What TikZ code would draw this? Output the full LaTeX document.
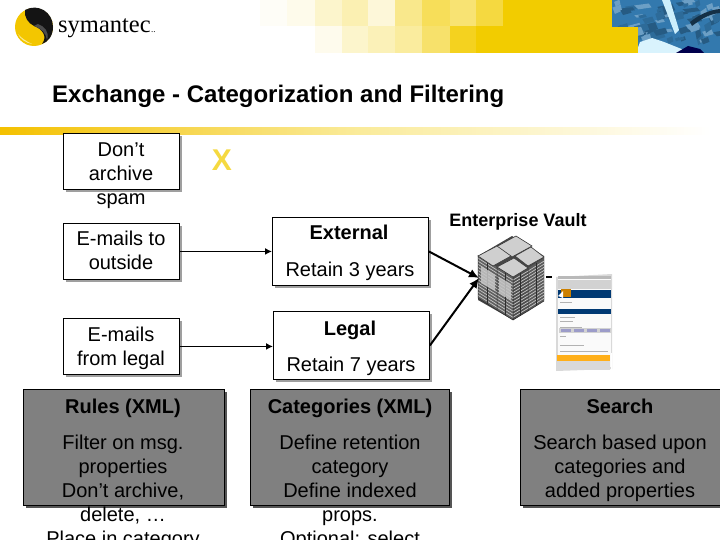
\documentclass[tikz,border=0pt]{standalone}
\usepackage{fontspec}
\setmainfont{Liberation Sans}
\newfontfamily\logofont{Liberation Serif}
\usetikzlibrary{arrows.meta}
\definecolor{gold}{HTML}{F2CC00}
\definecolor{boxgray}{HTML}{808080}
\definecolor{shadowgray}{HTML}{555555}
\definecolor{globeblue}{HTML}{3379AE}
\tikzset{
  x=1pt,y=-1pt,
  txt/.style={anchor=base,inner sep=0pt,font=\fontsize{20}{24}\selectfont,text=black},
  txtb/.style={txt,font=\fontsize{20}{24}\selectfont\bfseries},
  whitebox/.style={draw=black,line width=0.9pt,fill=white,inner sep=0pt,anchor=north west},
  graybox/.style={draw=black,line width=0.9pt,fill=boxgray,inner sep=0pt,anchor=north west},
  arr/.style={draw=black,line width=1.8pt,-{Latex[length=7pt,width=7pt]}},
  arrb/.style={draw=black,line width=2pt,-{Latex[length=10pt,width=9pt]}},
  topface/.style={fill=gray!38,draw=gray!45!black,line width=0.6pt},
}
% rack face: from (x1,y1) to (x2,y2) along the top edge, base grey level
\newcommand{\rackface}[5]{%
  \fill[gray!#5!black] (#1,#2) -- (#3,#4) -- (#3,#4+43) -- (#1,#2+43) -- cycle;
  \foreach \k in {1,...,13}{
    \draw[gray!45!white,line width=0.7pt] (#1,{#2+\k*3.1}) -- (#3,{#4+\k*3.1});
  }
  \draw[gray!35!black,line width=0.7pt] ({(#1+#3)/2},{(#2+#4)/2}) -- ({(#1+#3)/2},{(#2+#4)/2+43});
  \draw[gray!35!black,line width=0.5pt] (#1,#2) -- (#1,#2+43) -- (#3,#4+43);
}
\begin{document}
\begin{tikzpicture}
\useasboundingbox (0,0) rectangle (720,540);
\clip (0,0) rectangle (720,540);
\fill[white] (0,0) rectangle (720,540);
% header mosaic
\fill[gold!3!white] (260,0) rectangle (287,26.5);
\fill[gold!8!white] (287,0) rectangle (315,26.5);
\fill[gold!20!white] (315,0) rectangle (342,26.5);
\fill[gold!30!white] (342,0) rectangle (368,26.5);
\fill[gold!15!white] (368,0) rectangle (395,26.5);
\fill[gold!45!white] (395,0) rectangle (422,26.5);
\fill[gold!65!white] (422,0) rectangle (450,26.5);
\fill[gold!55!white] (450,0) rectangle (476,26.5);
\fill[gold!75!white] (476,0) rectangle (503,26.5);
\fill[gold] (503,0) rectangle (612,26.5);
\fill[gold!7!white] (315,26.5) rectangle (342,53);
\fill[gold!20!white] (342,26.5) rectangle (368,53);
\fill[gold!28!white] (368,26.5) rectangle (395,53);
\fill[gold!38!white] (395,26.5) rectangle (422,53);
\fill[gold!58!white] (422,26.5) rectangle (450,53);
\fill[gold!88!white] (450,26.5) rectangle (476,53);
\fill[gold] (476,26.5) rectangle (638,53);
% globe picture
\begin{scope}
  \clip (612,0) -- (720,0) -- (720,53) -- (638,53) -- (638,27) -- (612,27) -- cycle;
  \fill[globeblue] (600,0) rectangle (720,53);
  \pgfmathsetseed{7}
  \foreach \i in {1,...,70}{
    \pgfmathsetmacro{\px}{612+rnd*108}
    \pgfmathsetmacro{\py}{rnd*40}
    \pgfmathsetmacro{\pw}{4+rnd*12}
    \pgfmathsetmacro{\ph}{2+rnd*6}
    \pgfmathtruncatemacro{\tone}{mod(\i,3)}
    \ifnum\tone=0 \def\pc{globeblue!75!black}\fi
    \ifnum\tone=1 \def\pc{globeblue!72!white}\fi
    \ifnum\tone=2 \def\pc{globeblue!88!black}\fi
    \fill[\pc] (\px,\py) -- (\px+\pw,\py-\ph/2) -- (\px+\pw*1.2,\py+\ph/2) -- (\px+\pw*0.3,\py+\ph) -- cycle;
  }
  \fill[white!80!cyan] (662,0) -- (670,0) -- (679,30) -- (675,34) -- cycle;
  \fill[white!85!cyan] (636,53) -- (640,42) -- (652,38) -- (664,42) -- (684,50) -- (686,53) -- cycle;
  \fill[black!70!blue] (676,53) -- (688,46) -- (700,49) -- (704,53) -- cycle;
  \fill[globeblue!40!black] (690,22) .. controls (700,14) and (710,10) .. (720,9) -- (720,13) .. controls (708,14) and (700,20) .. (692,26) -- cycle;
\end{scope}
% band
\shade[left color=gold!85!orange,right color=white,middle color=gold!40!white] (0,128) rectangle (710,135);
% logo
\fill[gold!92!orange] (34,27) circle (19);
\fill[black!92] (25,10) .. controls (38,3) and (53,12) .. (53,27)
  .. controls (53,36) and (48,42) .. (42,44)
  .. controls (48,36) and (42,29) .. (34,26)
  .. controls (28,23) and (24,17) .. (25,10) -- cycle;
\fill[gray!60!black] (38,24) .. controls (44,26) and (50,32) .. (47,40) .. controls (46,33) and (42,29) .. (34,26) -- cycle;
\fill[gold!40!white] (18,34) .. controls (20,39) and (26,43) .. (32,44) .. controls (26,41) and (21,38) .. (18,34) -- cycle;
\node[anchor=base west,inner sep=0pt,font=\logofont\fontsize{24.5}{24}\selectfont] (logotext) at (58,33) {symantec};
\node[anchor=base west,inner sep=0pt,font=\logofont\fontsize{9}{9}\selectfont] (logodot) at (logotext.base east) {..};
% title
\node[anchor=base west,inner sep=0pt,font=\fontsize{24}{28}\selectfont\bfseries] (title) at (52,103) {Exchange - Categorization and Filtering};
% X
\node[anchor=base,inner sep=0pt,font=\fontsize{30}{30}\selectfont\bfseries,text=gold!75!white] (xmark) at (222,171) {X};
% shadows
\foreach \a/\b/\c/\d in {63/133/179/189,63/223/179/279,63/318/179/374,272/217/428/285,273/311/429/379}
  \fill[gray!75] (\a+3,\b+3) rectangle (\c+3,\d+3);
\foreach \a/\b/\c/\d in {23/389/224/505,250/389/449/505,520/389/730/505}
  \fill[shadowgray] (\a+3,\b+3) rectangle (\c+3,\d+3);
% boxes
\node[whitebox,minimum width=116pt,minimum height=56pt] (spam) at (63,133) {};
\node[whitebox,minimum width=116pt,minimum height=56pt] (outside) at (63,223) {};
\node[whitebox,minimum width=116pt,minimum height=56pt] (fromlegal) at (63,318) {};
\node[whitebox,minimum width=156pt,minimum height=68pt] (external) at (272,217) {};
\node[whitebox,minimum width=156pt,minimum height=68pt] (legal) at (273,311) {};
\node[graybox,minimum width=201pt,minimum height=116pt] (rules) at (23,389) {};
\node[graybox,minimum width=199pt,minimum height=116pt] (cats) at (250,389) {};
\node[graybox,minimum width=210pt,minimum height=116pt] (search) at (520,389) {};
% texts
\node[txt] (t1a) at (121,157) {Don’t};
\node[txt] (t1b) at (121,181) {archive};
\node[txt] (t1c) at (121,205) {spam};
\node[txt] (t2a) at (121,245) {E-mails to};
\node[txt] (t2b) at (121,269) {outside};
\node[txt] (t3a) at (121,341) {E-mails};
\node[txt] (t3b) at (121,365) {from legal};
\node[txtb] (t4a) at (349,240) {External};
\node[txt] (t4b) at (350,276) {Retain 3 years};
\node[txtb] (t5a) at (350,335) {Legal};
\node[txt] (t5b) at (351,371) {Retain 7 years};
\node[txtb] (r0) at (123,413) {Rules (XML)};
\node[txt] (r1) at (123,449) {Filter on msg.};
\node[txt] (r2) at (123,473) {properties};
\node[txt] (r3) at (123,497) {Don’t archive,};
\node[txt] (r4) at (123,521) {delete, …};
\node[txt] (r5) at (123,545) {Place in category};
\node[txtb] (c0) at (350,413) {Categories (XML)};
\node[txt] (c1) at (350,449) {Define retention};
\node[txt] (c2) at (350,473) {category};
\node[txt] (c3) at (350,497) {Define indexed};
\node[txt] (c4) at (350,521) {props.};
\node[txt] (c5) at (350,545) {Optional: select};
\node[txtb] (s0) at (620,413) {Search};
\node[txt] (s1) at (620,449) {Search based upon};
\node[txt] (s2) at (620,473) {categories and};
\node[txt] (s3) at (620,497) {added properties};
\node[anchor=base,inner sep=0pt,font=\fontsize{18}{20}\selectfont\bfseries] (ev) at (518,226) {Enterprise Vault};
% server stack
\coordinate (vault) at (479,278);
\fill[gray!55!black] (478,256) -- (512,236) -- (544,256) -- (544,300) -- (513,320) -- (478,300) -- cycle;
\rackface{528}{268}{544}{258}{70}
\rackface{478}{255}{497}{267}{75}
\rackface{497}{267}{513}{277}{75}
\rackface{513}{277}{528}{268}{60}
\fill[gray!45,opacity=.85] (481,266) -- (495,275) -- (495,291) -- (481,283) -- cycle;
\fill[gray!45,opacity=.85] (499,277) -- (511,284) -- (511,300) -- (499,293) -- cycle;
\draw[topface] (496,247) -- (516,236) -- (532,246) -- (512,257) -- cycle;
\draw[topface] (478,256) -- (497,246) -- (511,256) -- (493,266) -- cycle;
\draw[topface] (515,256) -- (531,247) -- (544,257) -- (528,266) -- cycle;
\draw[topface] (497,267) -- (514,258) -- (528,268) -- (513,277) -- cycle;
% connection dash
\coordinate (dashstart) at (546,277);
\coordinate (dashend) at (552,277);
\draw[black,line width=1.2pt] (dashstart) -- (dashend);
% thumbnail
\fill[gray!30] (556,277) -- (612,274) -- (612,369) -- (556,371) -- cycle;
\fill[white!96!gray] (558,279) rectangle (611,367);
\fill[gray!55] (558,276) rectangle (611,279);
\fill[gray!35] (558,280) rectangle (611,289);
\fill[blue!50!cyan!45!black] (558,290) rectangle (611,298);
\fill[orange!75!yellow!80!black] (561,289) rectangle (571,297);
\fill[white] (558,296) -- (563,291) -- (563,298) -- cycle;
\foreach \yy/\ex in {302/572,317/575,321/573,327/582}
  \draw[gray!60,line width=0.5pt] (560,\yy) -- (\ex,\yy);
\fill[blue!50!cyan!45!black] (558,309) rectangle (611,314);
\fill[gray!35] (559,328) rectangle (611,333);
\foreach \xx in {561,574,587,600}
  \fill[blue!30!gray!60] (\xx,329) rectangle (\xx+10,332);
\draw[gray!60,line width=0.5pt] (560,336) -- (566,336);
\draw[gray!60,line width=0.5pt] (560,345) -- (584,345);
\draw[gray!60,line width=0.5pt] (560,351) -- (608,351);
\fill[orange!70!yellow!90!white] (557,355) rectangle (610,361);
\fill[gray!30] (556,361) rectangle (610,370);
\fill[white] (611,353) rectangle (612,370);
% connectors
\draw[arr] (outside.east) -- (external.west);
\draw[arr] (fromlegal.east) -- (fromlegal.east -| legal.west);
\draw[arrb] (external.east) -- (vault);
\draw[arrb] (legal.east) -- (vault);
\end{tikzpicture}
\end{document}
